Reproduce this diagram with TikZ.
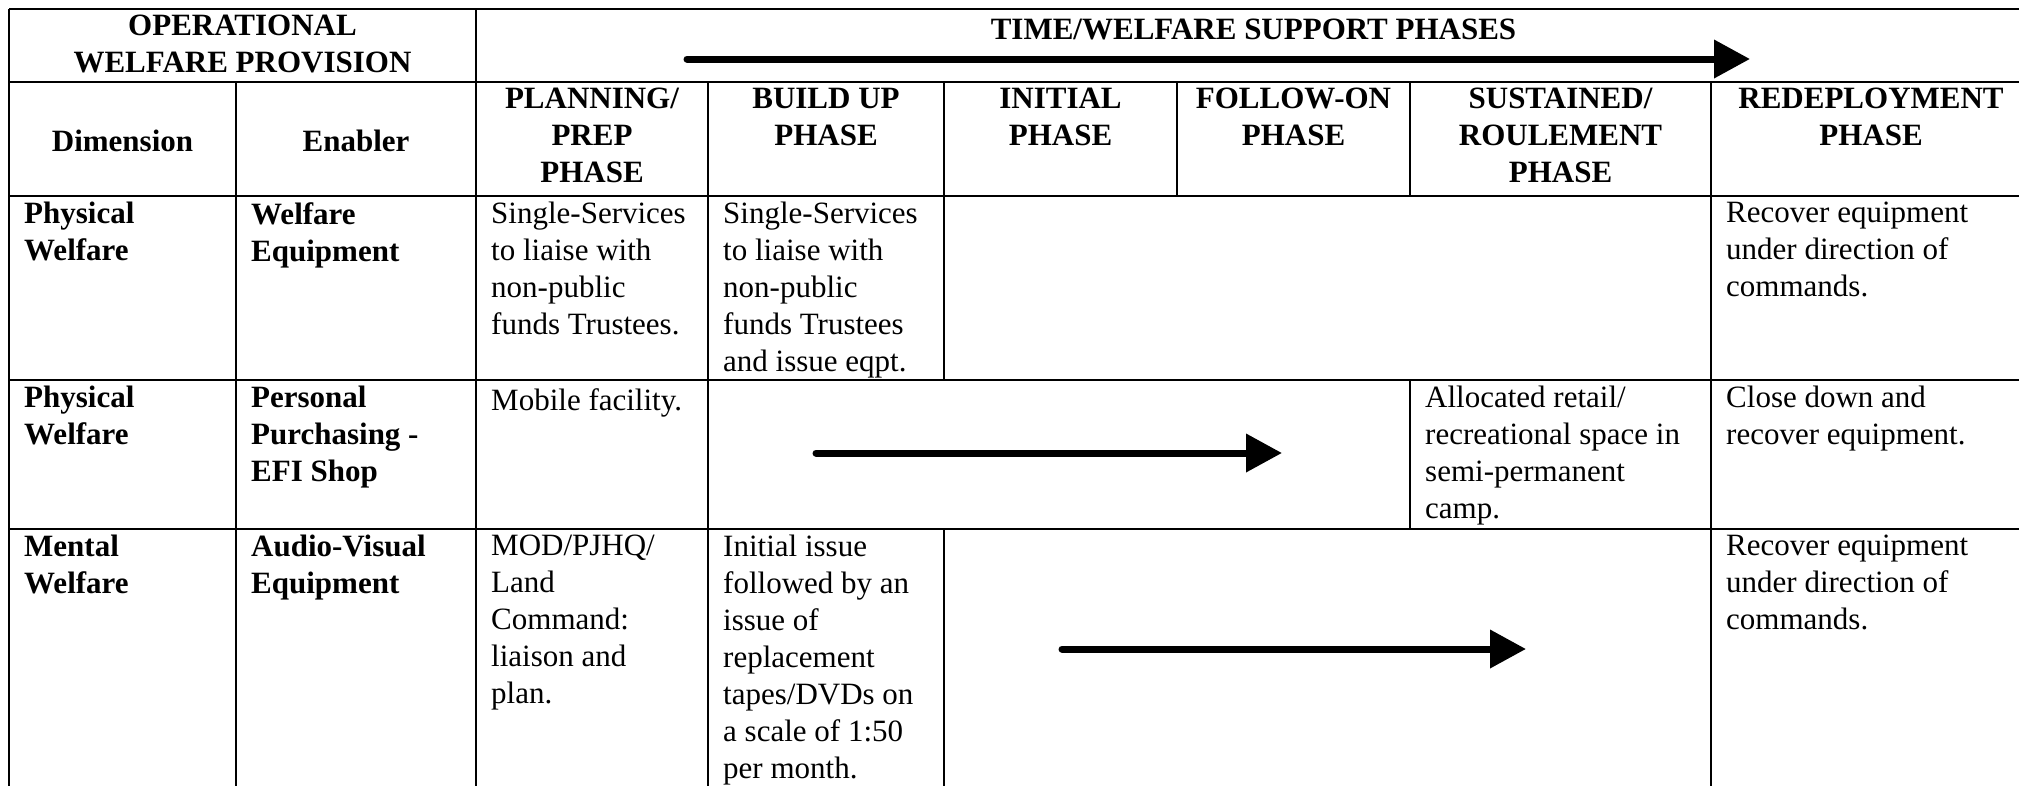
\documentclass[tikz,border=0pt]{standalone}
\usepackage{fontspec}
\setmainfont{Liberation Serif}
\usetikzlibrary{arrows.meta}

\begin{document}
\begin{tikzpicture}[x=1pt,y=-1pt,
  rule/.style={line width=2pt},
  cell/.style={font=\fontsize{31}{37}\selectfont, inner sep=0pt, align=left,
    anchor=north west, execute at begin node={\rule{0pt}{24pt}}},
  bcell/.style={cell, font=\fontsize{31}{37}\selectfont\bfseries},
  hcell/.style={bcell, align=center, anchor=north},
  timeline/.style={line width=7pt, line cap=round,
    -{Triangle[length=36pt,width=37pt]}}
]
\useasboundingbox (0,0) rectangle (2019,785);
\clip (0,0) rectangle (2019,785);

% ---- grid ----
\foreach \y in {9,82,196,380,529}
  \draw[rule] (9,\y) -- (2031,\y);
\draw[rule] (9,9) -- (9,800);
\draw[rule] (476,9) -- (476,800);
\draw[rule] (236,82) -- (236,800);
\draw[rule] (708,82) -- (708,800);
\draw[rule] (944,82) -- (944,380);
\draw[rule] (944,529) -- (944,800);
\draw[rule] (1177,82) -- (1177,196);
\draw[rule] (1410,82) -- (1410,196);
\draw[rule] (1410,380) -- (1410,529);
\draw[rule] (1711,82) -- (1711,800);
\draw[rule] (2031,9) -- (2031,800);

% ---- top header ----
\node[hcell] (owp) at (242.5,15) {OPERATIONAL\\WELFARE PROVISION};
\node[hcell] (tws) at (1253.5,15) {TIME/WELFARE SUPPORT PHASES};
\coordinate (t0) at (687,59);
\coordinate (t1) at (1750,59);
\draw[timeline] (t0) -- (t1);

% ---- column headers ----
\node[hcell] (hdim) at (122.5,127) {Dimension};
\node[hcell] (hen) at (356,127) {Enabler};
\node[hcell] (hplan) at (592,88) {PLANNING/\\PREP\\PHASE};
\node[hcell] (hbuild) at (826,88) {BUILD UP\\PHASE};
\node[hcell] (hinit) at (1060.5,88) {INITIAL\\PHASE};
\node[hcell] (hfol) at (1293.5,88) {FOLLOW-ON\\PHASE};
\node[hcell] (hsus) at (1560.5,88) {SUSTAINED/\\ROULEMENT\\PHASE};
\node[hcell] (hred) at (1871,88) {REDEPLOYMENT\\PHASE};

% ---- row 1 ----
\node[bcell] (d1) at (24,202) {Physical\\Welfare};
\node[bcell] (e1) at (251,202) {Welfare\\Equipment};
\node[cell] (p1) at (491,202) {Single-Services\\to liaise with\\non-public\\funds Trustees.};
\node[cell] (b1) at (723,202) {Single-Services\\to liaise with\\non-public\\funds Trustees\\and issue eqpt.};
\node[cell] (r1) at (1726,202) {Recover equipment\\under direction of\\commands.};

% ---- row 2 ----
\node[bcell] (d2) at (24,386) {Physical\\Welfare};
\node[bcell] (e2) at (251,386) {Personal\\Purchasing -\\EFI Shop};
\node[cell] (p2) at (491,386) {Mobile facility.};
\node[cell] (s2) at (1425,386) {Allocated retail/\\recreational space in\\semi-permanent\\camp.};
\node[cell] (r2) at (1726,386) {Close down and\\recover equipment.};
\coordinate (m0) at (816,453);
\coordinate (m1) at (1282,453);
\draw[timeline] (m0) -- (m1);

% ---- row 3 ----
\node[bcell] (d3) at (24,535) {Mental\\Welfare};
\node[bcell] (e3) at (251,535) {Audio-Visual\\Equipment};
\node[cell] (p3) at (491,535) {MOD/PJHQ/\\Land\\Command:\\liaison and\\plan.};
\node[cell] (b3) at (723,535) {Initial issue\\followed by an\\issue of\\replacement\\tapes/DVDs on\\a scale of 1:50\\per month.};
\node[cell] (r3) at (1726,535) {Recover equipment\\under direction of\\commands.};
\coordinate (n0) at (1062,649);
\coordinate (n1) at (1526,649);
\draw[timeline] (n0) -- (n1);
\end{tikzpicture}
\end{document}
